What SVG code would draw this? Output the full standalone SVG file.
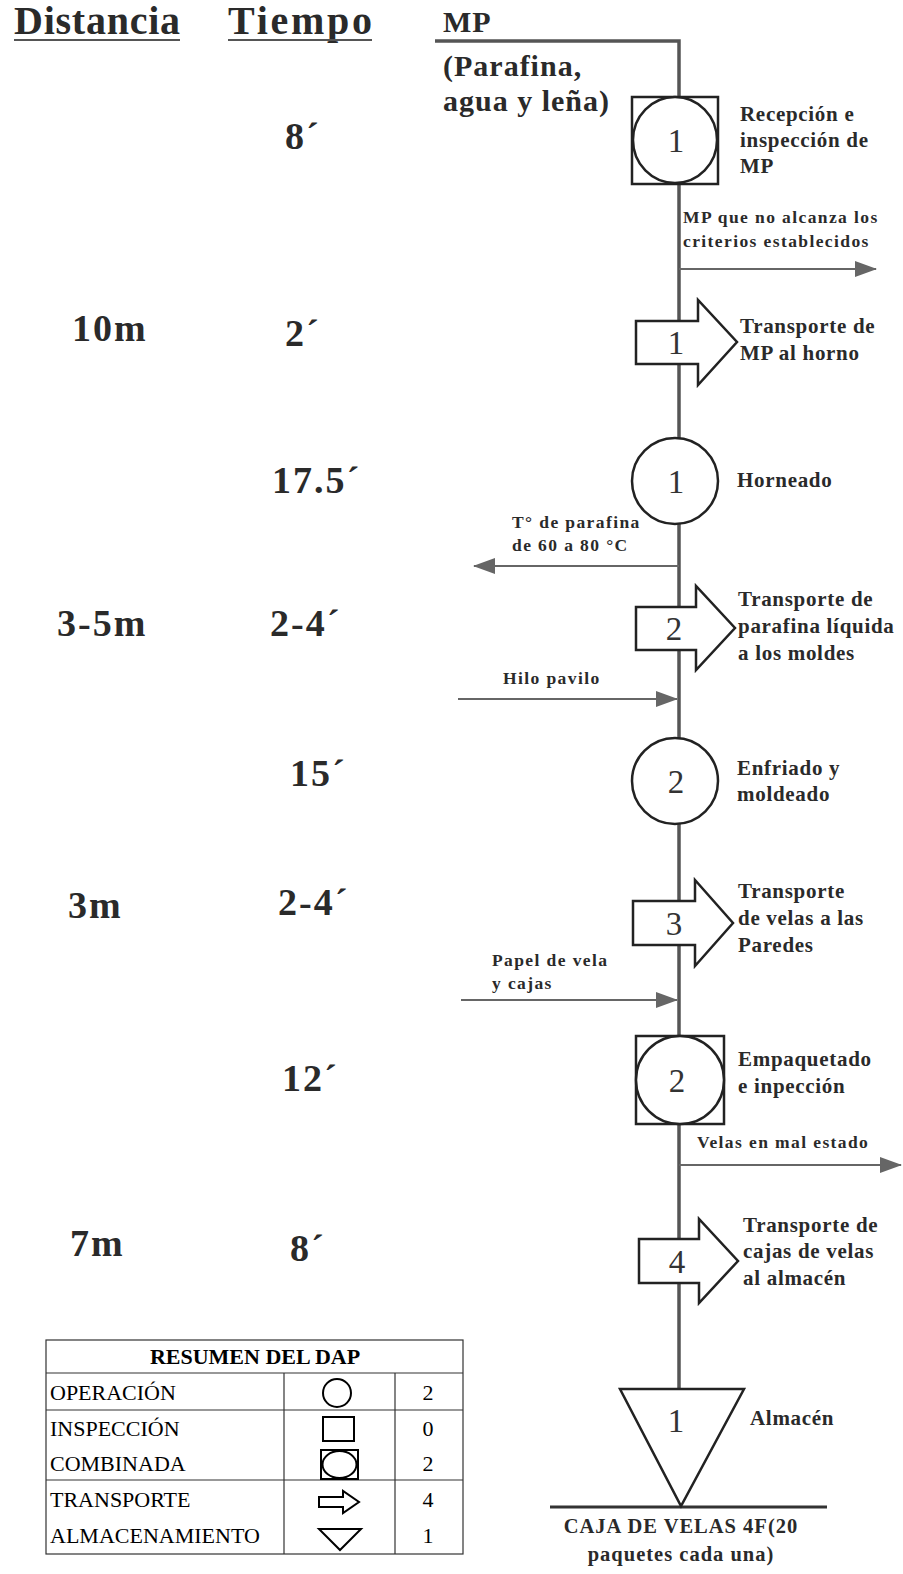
<svg xmlns="http://www.w3.org/2000/svg" width="903" height="1574" viewBox="0 0 903 1574">
<style>
.t{font-family:"Liberation Serif","Times New Roman",serif;fill:#2a2a2a;font-weight:bold}
.h{font-size:40px}
.col{font-size:38px;letter-spacing:2px}
.lbl{font-size:21px;letter-spacing:0.7px}
.sm{font-size:17.5px;letter-spacing:1.4px}
.mp{font-size:30px;letter-spacing:1px}
.num{font-family:"Liberation Serif",serif;font-size:33px;fill:#333;text-anchor:middle}
.sym{fill:#fff;stroke:#222;stroke-width:2.5}
.main{stroke:#555;stroke-width:3.5;fill:none}
.side{stroke:#666;stroke-width:2;fill:none}
.tb{font-family:"Liberation Serif","Times New Roman",serif;font-size:22px;fill:#000}
.grid{stroke:#333;stroke-width:1.2;fill:none}
.ts{fill:none;stroke:#000;stroke-width:2}
</style>
<defs>
<marker id="ahb" markerWidth="22" markerHeight="16" refX="21" refY="8" orient="auto" markerUnits="userSpaceOnUse" viewBox="0 0 22 16">
<path d="M0,0 L22,8 L0,16 Z" fill="#666"/>
</marker>
</defs>
<rect width="903" height="1574" fill="#fff"/>

<g id="headers">
<text class="t h" x="14" y="34" textLength="166" lengthAdjust="spacing">Distancia</text>
<line x1="14" y1="40" x2="180" y2="40" stroke="#555" stroke-width="2"/>
<text class="t h" x="228" y="34" textLength="144" lengthAdjust="spacing">Tiempo</text>
<line x1="228" y1="40" x2="372" y2="40" stroke="#555" stroke-width="2"/>
<text class="t mp" x="443" y="32">MP</text>
<text class="t mp" x="443" y="76">(Parafina,</text>
<text class="t mp" x="443" y="111">agua y leña)</text>
</g>

<g id="connectors">
<polyline class="main" points="435,41 679,41 679,1389"/>
<line class="side" x1="679" y1="269" x2="876" y2="269" marker-end="url(#ahb)"/>
<line class="side" x1="679" y1="566" x2="474" y2="566" marker-end="url(#ahb)"/>
<line class="side" x1="458" y1="699" x2="677" y2="699" marker-end="url(#ahb)"/>
<line class="side" x1="461" y1="1000" x2="677" y2="1000" marker-end="url(#ahb)"/>
<line class="side" x1="679" y1="1165" x2="901" y2="1165" marker-end="url(#ahb)"/>
<line x1="550" y1="1507" x2="827" y2="1507" stroke="#333" stroke-width="3"/>
<text class="t sm" x="683" y="223">MP que no alcanza los</text>
<text class="t sm" x="683" y="247">criterios establecidos</text>
<text class="t sm" x="512" y="528">T° de parafina</text>
<text class="t sm" x="512" y="551">de 60 a 80 °C</text>
<text class="t sm" x="503" y="684">Hilo pavilo</text>
<text class="t sm" x="492" y="966">Papel de vela</text>
<text class="t sm" x="492" y="989">y cajas</text>
<text class="t sm" x="697" y="1148">Velas en mal estado</text>
</g>

<g id="n1">
<rect class="sym" x="632" y="97" width="86" height="87"/>
<ellipse class="sym" cx="675" cy="140" rx="42" ry="43"/>
<text class="num" x="676" y="152">1</text>
<text class="t lbl" x="740" y="121">Recepción e</text>
<text class="t lbl" x="740" y="147">inspección de</text>
<text class="t lbl" x="740" y="173">MP</text>
<text class="t col" x="285" y="149">8´</text>
</g>

<g id="n2">
<path class="sym" d="M636,321 H698 V300 L737,342 L698,385 V364 H636 Z"/>
<text class="num" x="676" y="354">1</text>
<text class="t lbl" x="740" y="333">Transporte de</text>
<text class="t lbl" x="740" y="360">MP al horno</text>
<text class="t col" x="72" y="341">10m</text>
<text class="t col" x="285" y="346">2´</text>
</g>

<g id="n3">
<circle class="sym" cx="675" cy="481" r="43"/>
<text class="num" x="676" y="493">1</text>
<text class="t lbl" x="737" y="487">Horneado</text>
<text class="t col" x="272" y="493">17.5´</text>
</g>

<g id="n4">
<path class="sym" d="M636,607 H696 V586 L735,628 L696,670 V650 H636 Z"/>
<text class="num" x="674" y="640">2</text>
<text class="t lbl" x="738" y="606">Transporte de</text>
<text class="t lbl" x="738" y="633">parafina líquida</text>
<text class="t lbl" x="738" y="660">a los moldes</text>
<text class="t col" x="57" y="636">3-5m</text>
<text class="t col" x="270" y="636">2-4´</text>
</g>

<g id="n5">
<circle class="sym" cx="675" cy="781" r="43"/>
<text class="num" x="676" y="793">2</text>
<text class="t lbl" x="737" y="775">Enfriado y</text>
<text class="t lbl" x="737" y="801">moldeado</text>
<text class="t col" x="290" y="786">15´</text>
</g>

<g id="n6">
<path class="sym" d="M633,901 H695 V880 L733,923 L695,966 V945 H633 Z"/>
<text class="num" x="674" y="935">3</text>
<text class="t lbl" x="738" y="898">Transporte</text>
<text class="t lbl" x="738" y="925">de velas a las</text>
<text class="t lbl" x="738" y="952">Paredes</text>
<text class="t col" x="68" y="918">3m</text>
<text class="t col" x="278" y="915">2-4´</text>
</g>

<g id="n7">
<rect class="sym" x="636" y="1036" width="88" height="88"/>
<circle class="sym" cx="680" cy="1080" r="44"/>
<text class="num" x="677" y="1092">2</text>
<text class="t lbl" x="738" y="1066">Empaquetado</text>
<text class="t lbl" x="738" y="1093">e inpección</text>
<text class="t col" x="282" y="1091">12´</text>
</g>

<g id="n8">
<path class="sym" d="M639,1239 H699 V1219 L738,1261 L699,1303 V1283 H639 Z"/>
<text class="num" x="677" y="1273">4</text>
<text class="t lbl" x="743" y="1232">Transporte de</text>
<text class="t lbl" x="743" y="1258">cajas de velas</text>
<text class="t lbl" x="743" y="1285">al almacén</text>
<text class="t col" x="70" y="1256">7m</text>
<text class="t col" x="290" y="1261">8´</text>
</g>

<g id="n9">
<path class="sym" d="M620,1389 H744 L681,1506 Z"/>
<text class="num" x="676" y="1432">1</text>
<text class="t lbl" x="750" y="1425">Almacén</text>
<text class="t" font-size="20.5" letter-spacing="1" x="681" y="1533" text-anchor="middle">CAJA DE VELAS 4F(20</text>
<text class="t" font-size="20.5" letter-spacing="1" x="681" y="1561" text-anchor="middle">paquetes cada una)</text>
</g>

<g id="table">
<rect class="grid" x="46" y="1340" width="417" height="214"/>
<line class="grid" x1="46" y1="1373" x2="463" y2="1373"/>
<line class="grid" x1="46" y1="1410" x2="463" y2="1410"/>
<line class="grid" x1="46" y1="1480" x2="463" y2="1480"/>
<line class="grid" x1="284" y1="1373" x2="284" y2="1554" stroke="#aaa"/>
<line class="grid" x1="395" y1="1373" x2="395" y2="1554"/>
<text class="tb" font-weight="bold" x="255" y="1364" text-anchor="middle">RESUMEN DEL DAP</text>
<text class="tb" x="50" y="1400">OPERACIÓN</text>
<text class="tb" x="50" y="1436">INSPECCIÓN</text>
<text class="tb" x="50" y="1471">COMBINADA</text>
<text class="tb" x="50" y="1507">TRANSPORTE</text>
<text class="tb" x="50" y="1543">ALMACENAMIENTO</text>
<circle class="ts" cx="337" cy="1393" r="14"/>
<rect class="ts" x="323" y="1417" width="31" height="24"/>
<rect class="ts" x="321" y="1450" width="37" height="29" stroke-width="1.5"/>
<ellipse class="ts" cx="339.5" cy="1464.5" rx="17" ry="13.5"/>
<path class="ts" d="M319,1497 H343 V1491 L359,1502 L343,1513 V1507 H319 Z"/>
<path class="ts" d="M319,1529 H361 L340,1550 Z"/>
<text class="tb" x="428" y="1400" text-anchor="middle">2</text>
<text class="tb" x="428" y="1436" text-anchor="middle">0</text>
<text class="tb" x="428" y="1471" text-anchor="middle">2</text>
<text class="tb" x="428" y="1507" text-anchor="middle">4</text>
<text class="tb" x="428" y="1543" text-anchor="middle">1</text>
</g>
</svg>
